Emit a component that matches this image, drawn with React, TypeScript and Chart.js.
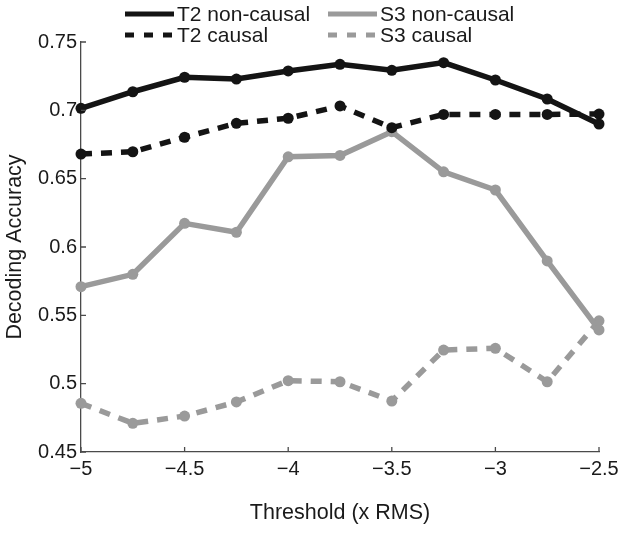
import React, { useEffect, useRef } from "react";
import { Chart, registerables } from "chart.js";

Chart.register(...registerables);

const thresholds = [-5, -4.75, -4.5, -4.25, -4, -3.75, -3.5, -3.25, -3, -2.75, -2.5];
const t2NonCausal = [0.7015, 0.7136, 0.7242, 0.7229, 0.7288, 0.7337, 0.7293, 0.7349, 0.7222, 0.7083, 0.69];
const t2Causal = [0.668, 0.6697, 0.6803, 0.6905, 0.6942, 0.7032, 0.6873, 0.697, 0.697, 0.697, 0.6973];
const s3NonCausal = [0.571, 0.58, 0.6173, 0.6108, 0.666, 0.667, 0.6844, 0.655, 0.6417, 0.5898, 0.5393];
const s3Causal = [0.4856, 0.471, 0.4763, 0.4866, 0.5022, 0.5014, 0.4873, 0.5246, 0.5259, 0.5014, 0.546];

const xTickValues = [-5, -4.5, -4, -3.5, -3, -2.5];
const yTickValues = [0.45, 0.5, 0.55, 0.6, 0.65, 0.7, 0.75];

const seriesLabels = ["T2 non-causal", "T2 causal", "S3 non-causal", "S3 causal"];

const BLACK = "#141414";
const GRAY = "#9a9a9a";
const AXIS = "#4a4a4a";
const FONT = "'Liberation Sans', Arial, Helvetica, sans-serif";

const fmt = (v: number) => String(Math.round(v * 100) / 100).replace("-", "\u2212");

const toPts = (ys: number[]) => thresholds.map((x, i) => ({ x, y: ys[i] }));

const inwardTicks = {
  id: "inwardTicks",
  afterDraw(chart: any) {
    const ctx = chart.ctx;
    const xs = chart.scales.x;
    const ys = chart.scales.y;
    const { left, bottom } = chart.chartArea;
    ctx.save();
    ctx.strokeStyle = AXIS;
    ctx.lineWidth = 1.3;
    ctx.beginPath();
    xTickValues.forEach((v) => {
      const px = xs.getPixelForValue(v);
      ctx.moveTo(px, bottom);
      ctx.lineTo(px, bottom - 5);
    });
    yTickValues.forEach((v) => {
      const py = ys.getPixelForValue(v);
      ctx.moveTo(left, py);
      ctx.lineTo(left + 5, py);
    });
    ctx.stroke();
    ctx.restore();
  },
};

const customLegend = {
  id: "customLegend",
  afterDraw(chart: any) {
    const ctx = chart.ctx;
    const slots = [
      { lx: 125, y: 14 },
      { lx: 125, y: 35 },
      { lx: 328, y: 14 },
      { lx: 328, y: 35 },
    ];
    ctx.save();
    chart.data.datasets.forEach((ds: any, i: number) => {
      const s = slots[i];
      ctx.strokeStyle = ds.borderColor;
      ctx.lineWidth = 5;
      ctx.lineCap = "butt";
      ctx.setLineDash(ds.borderDash && ds.borderDash.length ? [9, 10] : []);
      ctx.beginPath();
      ctx.moveTo(s.lx, s.y);
      ctx.lineTo(s.lx + 49, s.y);
      ctx.stroke();
      ctx.setLineDash([]);
      ctx.fillStyle = "#1a1a1a";
      ctx.font = `21px ${FONT}`;
      ctx.textBaseline = "middle";
      ctx.textAlign = "left";
      ctx.fillText(ds.label, s.lx + 52, s.y + 1);
    });
    ctx.restore();
  },
};

export default function App() {
  const ref = useRef<HTMLCanvasElement | null>(null);

  useEffect(() => {
    if (!ref.current) return;
    const mk = (label: string, ys: number[], color: string, dashed: boolean) => ({
      label,
      data: toPts(ys),
      borderColor: color,
      backgroundColor: color,
      borderWidth: 5.5,
      borderDash: dashed ? [11, 9] : [],
      pointRadius: 5.5,
      pointBackgroundColor: color,
      pointBorderColor: color,
      pointBorderWidth: 0,
      tension: 0,
      clip: false as any,
      fill: false,
    });
    const chart = new Chart(ref.current, {
      type: "line",
      data: {
        datasets: [
          mk(seriesLabels[0], t2NonCausal, BLACK, false),
          mk(seriesLabels[1], t2Causal, BLACK, true),
          mk(seriesLabels[2], s3NonCausal, GRAY, false),
          mk(seriesLabels[3], s3Causal, GRAY, true),
        ],
      },
      options: {
        responsive: false,
        animation: false,
        layout: { padding: { top: 42, right: 25, bottom: 0, left: 0 } },
        plugins: {
          legend: { display: false },
          tooltip: { enabled: false },
        },
        scales: {
          x: {
            type: "linear",
            min: -5,
            max: -2.5,
            afterBuildTicks: (s: any) => {
              s.ticks = xTickValues.map((v) => ({ value: v }));
            },
            afterFit: (s: any) => {
              s.height = 81;
            },
            grid: { display: false, drawTicks: false },
            border: { display: true, color: AXIS, width: 1.3 },
            ticks: {
              padding: 5,
              color: "#1a1a1a",
              font: { family: FONT, size: 20 },
              maxRotation: 0,
              callback: (v: any) => fmt(Number(v)),
            },
            title: {
              display: true,
              text: "Threshold (x RMS)",
              color: "#1a1a1a",
              font: { family: FONT, size: 21.5 },
              padding: { top: 4, bottom: 7 },
            },
          },
          y: {
            type: "linear",
            min: 0.45,
            max: 0.75,
            afterBuildTicks: (s: any) => {
              s.ticks = yTickValues.map((v) => ({ value: v }));
            },
            afterFit: (s: any) => {
              s.width = 81;
            },
            grid: { display: false, drawTicks: false },
            border: { display: true, color: AXIS, width: 1.3 },
            ticks: {
              padding: 4,
              color: "#1a1a1a",
              font: { family: FONT, size: 20 },
              callback: (v: any) => fmt(Number(v)),
            },
            title: {
              display: true,
              text: "Decoding Accuracy",
              color: "#1a1a1a",
              font: { family: FONT, size: 21.5 },
              padding: { top: 2, bottom: 2 },
            },
          },
        },
      },
      plugins: [inwardTicks, customLegend],
    });
    return () => chart.destroy();
  }, []);

  return (
    <div style={{ position: "absolute", left: 0, top: 0, width: 624, height: 533, background: "#fff" }}>
      <canvas ref={ref} width={624} height={533} style={{ display: "block" }} />
    </div>
  );
}
